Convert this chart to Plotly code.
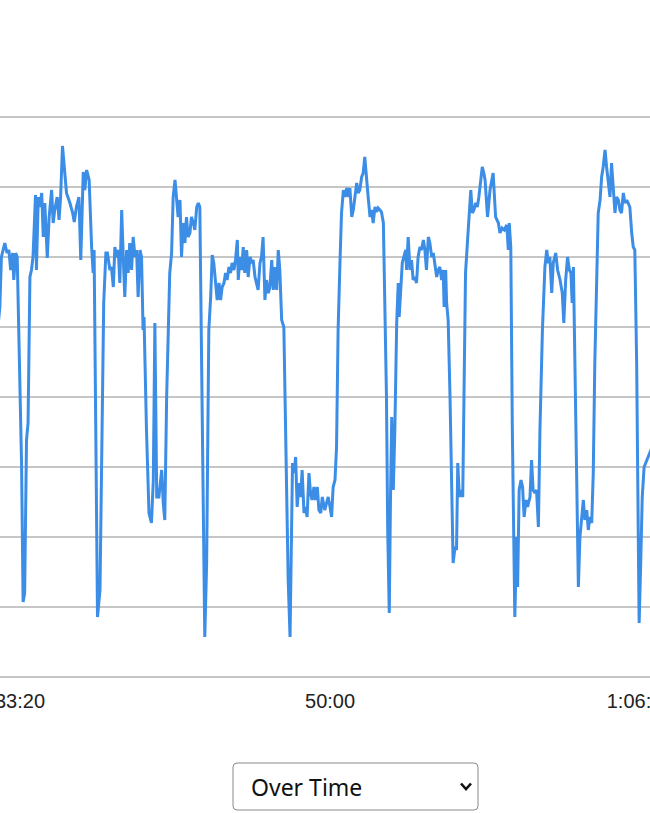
import plotly.graph_objects as go

# elapsed time (s) and value
time_s = [1925, 1935, 1940, 1951, 1958, 1964, 1970, 1976, 1980, 1986, 1991, 1997, 2005, 2010, 2015, 2021, 2026,
          2032, 2037, 2042, 2050, 2053, 2059, 2064, 2070, 2075, 2080, 2088, 2094, 2102, 2107, 2112, 2120, 2126,
          2131, 2137, 2145, 2150, 2161, 2170, 2175, 2182, 2190, 2196, 2204, 2209, 2215, 2223, 2231, 2236, 2239,
          2245, 2250, 2258, 2263, 2270, 2277, 2282, 2290, 2295, 2301, 2306, 2311, 2317, 2322, 2328, 2333, 2338,
          2344, 2349, 2354, 2360, 2365, 2371, 2376, 2381, 2387, 2392, 2397, 2400, 2408, 2416, 2424, 2430, 2435,
          2441, 2448, 2457, 2462, 2467, 2473, 2483, 2489, 2494, 2500, 2505, 2510, 2516, 2521, 2526, 2532, 2537,
          2542, 2548, 2553, 2559, 2564, 2570, 2575, 2580, 2586, 2591, 2596, 2602, 2609, 2615, 2620, 2625, 2631,
          2636, 2642, 2647, 2652, 2658, 2663, 2668, 2674, 2679, 2684, 2690, 2695, 2701, 2704, 2709, 2715, 2720,
          2725, 2731, 2736, 2742, 2747, 2752, 2758, 2763, 2768, 2774, 2779, 2784, 2790, 2795, 2801, 2806, 2812,
          2817, 2822, 2828, 2833, 2838, 2844, 2851, 2858, 2865, 2871, 2876, 2879, 2884, 2889, 2894, 2900, 2905,
          2910, 2916, 2921, 2926, 2932, 2937, 2942, 2948, 2953, 2959, 2964, 2970, 2975, 2983, 2989, 2994, 3000,
          3005, 3010, 3016, 3021, 3026, 3032, 3037, 3043, 3048, 3054, 3059, 3064, 3070, 3075, 3080, 3086, 3091,
          3096, 3102, 3107, 3112, 3118, 3123, 3129, 3134, 3139, 3145, 3150, 3155, 3161, 3166, 3172, 3177, 3182,
          3186, 3191, 3195, 3199, 3204, 3209, 3215, 3220, 3223, 3228, 3233, 3238, 3244, 3247, 3252, 3258, 3263,
          3268, 3274, 3279, 3284, 3290, 3295, 3301, 3306, 3311, 3317, 3322, 3328, 3333, 3338, 3344, 3349, 3354,
          3360, 3365, 3368, 3373, 3376, 3381, 3387, 3392, 3397, 3403, 3408, 3412, 3417, 3422, 3428, 3432, 3437,
          3443, 3448, 3454, 3459, 3464, 3470, 3475, 3480, 3486, 3491, 3496, 3500, 3508, 3516, 3526, 3534, 3543,
          3548, 3555, 3562, 3570, 3575, 3578, 3583, 3588, 3591, 3596, 3602, 3605, 3610, 3616, 3621, 3626, 3632,
          3637, 3645, 3650, 3655, 3661, 3666, 3672, 3677, 3685, 3693, 3699, 3704, 3709, 3715, 3720, 3728, 3734,
          3742, 3749, 3754, 3760, 3766, 3772, 3777, 3781, 3785, 3790, 3795, 3801, 3806, 3812, 3817, 3822, 3828,
          3833, 3838, 3844, 3849, 3854, 3860, 3865, 3871, 3876, 3881, 3887, 3892, 3897, 3903, 3908, 3913, 3919,
          3924, 3930, 3935, 3940, 3946, 3951, 3957, 3962, 3967, 3973, 3978, 3983, 3989, 3994, 3997, 4002, 4007,
          4013, 4018, 4023, 4030, 4048]

values = [168.5, 185, 210, 217, 212, 213.5, 203.5, 212, 198.5, 212, 210, 165, 107, 37.5, 42, 118.5, 127,
          200, 203.5, 210, 241, 203.5, 240, 235, 242, 220, 237, 209.5, 230, 243.5, 227, 233.5, 240, 228.5,
          240, 265.5, 248.5, 242, 237, 232, 227.5, 235, 240, 208.5, 252.5, 243.5, 253.5, 248.5, 215, 202, 213.5,
          123.5, 30, 43.5, 105, 187, 212, 212, 203.5, 205, 195, 215, 210, 213.5, 197, 233.5, 210, 190,
          213.5, 202, 217, 203.5, 220, 210, 213.5, 190, 213.5, 210, 173.5, 180, 123.5, 82, 77, 98.5, 177,
          90, 90, 103.5, 87, 78.5, 140, 202, 212, 240, 248.5, 240, 230, 238.5, 210, 227, 217, 230,
          220, 222, 230, 227, 223.5, 235, 237, 235, 157, 73.5, 20, 57, 173.5, 190, 211, 207, 198.5,
          188.5, 197, 188.5, 195, 197, 202, 198.5, 205, 202, 207, 203.5, 208.5, 218.5, 198.5, 210, 203.5, 215,
          202, 213.5, 200, 210, 207, 208.5, 200, 197, 193.5, 207, 210, 220, 188.5, 198.5, 192, 195, 208.5,
          193.5, 205, 193.5, 213.5, 203.5, 178.5, 175, 107, 48.5, 20, 65, 107, 102, 110, 85, 97, 90,
          103.5, 82, 85, 80, 102, 92, 88.5, 95, 88.5, 95, 83.5, 82, 90, 83.5, 87, 90, 85,
          80, 95, 98.5, 115, 173.5, 207, 232, 243.5, 240, 244.5, 240, 244.5, 230, 233.5, 240, 247, 242,
          243.5, 250, 252, 260, 247, 240, 230, 233.5, 227, 235, 232.5, 234.5, 233.5, 232.5, 227, 190, 140,
          73.5, 32, 90, 130, 93.5, 123.5, 177, 197, 180, 195, 207, 210, 213.5, 203.5, 220, 203.5, 208.5,
          198.5, 200, 197, 210, 215, 213.5, 218.5, 213.5, 203.5, 220, 217, 210, 212, 207, 200, 203.5, 205,
          198.5, 203.5, 185, 203.5, 187, 178.5, 140, 90, 57, 65, 63.5, 107, 90, 93.5, 90, 140, 202,
          217, 232, 243.5, 232, 233.5, 237, 235, 240, 247, 255, 252, 248.5, 230, 243.5, 252, 230, 227,
          222, 224.5, 223.5, 226, 213.5, 227, 215, 123.5, 73.5, 30, 70, 45, 93.5, 98.5, 95, 80, 88.5,
          85, 90, 108.5, 93.5, 92, 93.5, 75, 123.5, 173.5, 205, 213.5, 207, 210, 192, 207, 212, 203.5,
          198.5, 192, 177, 198.5, 210, 203.5, 202, 187, 205, 157, 107, 45, 70, 82, 88.5, 78.5, 83.5,
          73.5, 80, 77, 102, 157, 198.5, 232, 238.5, 250, 255, 263.5, 255, 248.5, 240, 257, 243.5, 232,
          240, 238.5, 233.5, 232, 242, 237, 238.5, 237, 235, 222, 215, 213.5, 157, 73.5, 27, 57, 90,
          105, 107, 108.5, 112, 118.5]

tick_vals = [1000, 2000, 3000, 4000, 5000]
tick_text = ["16:40", "33:20", "50:00", "1:06:40", "1:23:20"]
grid_vals = [0, 35, 70, 105, 140, 175, 210, 245, 280]
selector_label = "Over Time"

W, H = 650, 813
L, R, T, B = 0, 0, 107, 126
pw, ph = W - L - R, H - T - B

def px(x):
    return (x - L) / pw

def py(y):
    return (H - B - y) / ph

fig = go.Figure()
fig.add_trace(go.Scatter(
    x=time_s, y=values, mode="lines",
    line=dict(color="#3b8de6", width=3),
    hoverinfo="x+y", showlegend=False,
))

# dropdown-like selector box with rounded corners
x0, x1, y0, y1, r = 233, 478, 763, 810, 4
path = (f"M {px(x0 + r)} {py(y0)} L {px(x1 - r)} {py(y0)} "
        f"Q {px(x1)} {py(y0)} {px(x1)} {py(y0 + r)} "
        f"L {px(x1)} {py(y1 - r)} Q {px(x1)} {py(y1)} {px(x1 - r)} {py(y1)} "
        f"L {px(x0 + r)} {py(y1)} Q {px(x0)} {py(y1)} {px(x0)} {py(y1 - r)} "
        f"L {px(x0)} {py(y0 + r)} Q {px(x0)} {py(y0)} {px(x0 + r)} {py(y0)} Z")
shapes = [
    dict(type="path", xref="paper", yref="paper", path=path,
         line=dict(color="#8a8a8a", width=1), fillcolor="#ffffff", layer="above"),
    dict(type="path", xref="paper", yref="paper",
         path=f"M {px(461)} {py(783.5)} L {px(466)} {py(789)} L {px(471)} {py(783.5)}",
         line=dict(color="#111111", width=2.6), layer="above"),
]
annotations = [
    dict(text=selector_label, xref="paper", yref="paper", x=px(249), y=py(787),
         xanchor="left", yanchor="middle", showarrow=False,
         font=dict(family="Noto Sans, Open Sans, sans-serif", size=23, color="#111111")),
]

fig.update_layout(
    width=W, height=H,
    margin=dict(l=L, r=R, t=T, b=B, pad=0, autoexpand=False),
    paper_bgcolor="#ffffff", plot_bgcolor="#ffffff",
    shapes=shapes, annotations=annotations,
    xaxis=dict(range=[1935.5, 4032], tickvals=tick_vals, ticktext=tick_text,
               showgrid=False, zeroline=False, showline=False, ticks="",
               automargin=False, ticklabeloverflow="allow", fixedrange=True,
               tickfont=dict(family="Arial, Liberation Sans, sans-serif", size=20, color="#222222")),
    yaxis=dict(range=[-5, 285], tickvals=grid_vals, showticklabels=False,
               showgrid=True, gridcolor="#c6c6c6", gridwidth=1.5, zeroline=False,
               showline=False, ticks="", automargin=False, fixedrange=True),
)

fig.write_html("out.html", config={"displayModeBar": False})
